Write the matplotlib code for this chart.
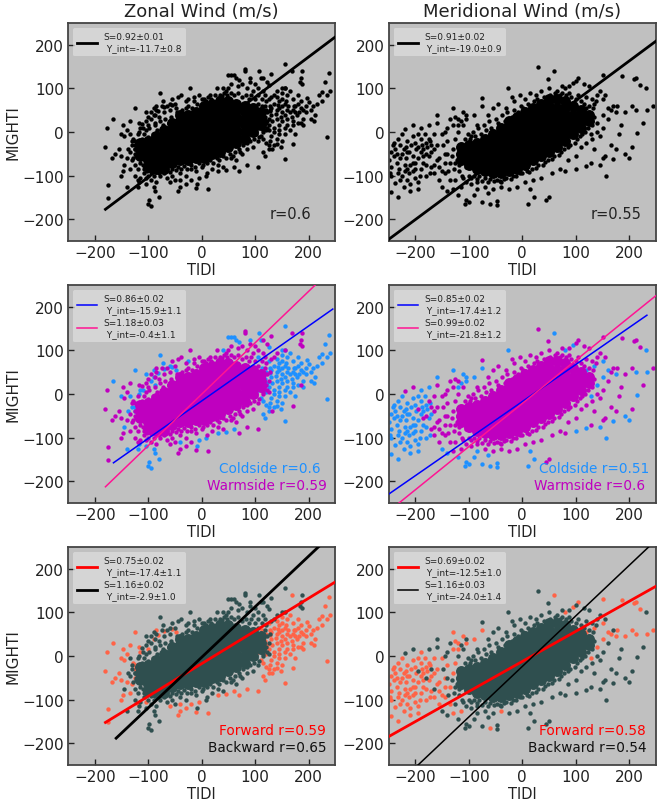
"""MIGHTI vs TIDI wind comparison, split by side and look direction."""

import matplotlib

matplotlib.use("Agg")
import matplotlib.pyplot as plt
import numpy as np

# points: C/W = coldside/warmside, F/B = forward/backward
ZONAL_CF = [(238,135),(230,115),(240,95),(225,92),(235,85),(220,85),(225,70),(215,65),(208,60),(200,68),(196,78),(205,50),
    (212,40),(195,45),(190,30),(205,30),(210,25),(235,-12),(185,55),(175,60),(170,75),(160,85),(150,90),(165,45),(178,40),
    (155,65),(145,70),(140,50),(150,45),(160,30),(170,25),(180,20),(150,25),(140,30),(130,40),(128,60),(120,50),(115,30),
    (125,15),(135,10),(145,5),(155,10),(165,5),(175,-5),(130,-10),(140,-15),(150,-20),(135,-30),(120,-25),(110,-10),(105,10),
    (100,30),(112,60),(125,75),(170,50),(160,50),(185,70),(195,60),(180,85),(165,95),(155,100),(145,55),(135,65),(150,60),
    (190,15),(145,-5),(125,-40),(148,-35),(115,-45),(118,-55),(155,-62),(-165,30),(-125,55),(-150,-5),(-115,10),(-95,-75),
    (-82,48),(-70,58),(-55,62),(-48,55),(-90,40),(-125,-30),(-118,-60),(30,-90),(45,-88),(60,-80),(-40,-110),(-5,-105),
    (100,55),(108,45),(118,35),(122,25),(128,48),(132,25),(138,42),(142,62),(148,35),(155,40),(158,70),(162,60),(168,35),
    (172,60),(175,45),(182,45),(150,75),(140,80),(130,55),(135,0),(145,15),(120,5),(112,20),(128,-20),(115,-15),(160,15),
    (155,-5),(170,15),(180,65),(190,50),(140,-28),(125,-30)]
ZONAL_WF = [(-180,-35),(-177,10),(-175,-122),(-175,-152),(-148,15),(-145,-10),(-128,-15),(-140,5),(-162,-50),(-150,-55),
    (-168,-60),(-140,-60),(-150,-100),(-148,-90),(168,140),(105,-80),(85,-75),(70,-90),(-40,-125),(-45,-135),(-30,-120),
    (-20,-110),(-60,-115),(185,20),(170,-28),(132,-40),(-10,-128),(12,-130),(-135,25),(-110,-30),(-155,-40),(-125,-50),
    (-130,-65),(-135,-85),(-120,-110),(-105,-105),(-125,-20),(-100,15),(-118,20),(-85,60)]
ZONAL_CB = [(155,155),(107,140),(-100,-165),(-98,-155),(-95,-170),(-80,-150),(60,130),(55,130),(65,125),(70,120),(50,130),
    (-78,90),(-105,45),(-95,30),(-110,10),(-115,-25),(-90,55),(-88,20),(-72,70),(-60,65),(-25,75),(-130,-30),(-135,-5),
    (-125,-40),(-118,-115),(-90,-125),(-88,-135),(-120,-125),(-140,-125),(-145,-75),(-8,-120),(8,-100),(125,108),(110,125),
    (150,100),(105,85),(90,125),(40,100),(-118,0),(-122,-50),(-105,-120),(-138,-40)]
ZONAL_WB = [(-120,-5),(-112,18),(-105,25),(-100,35),(-95,45),(-88,40),(-85,50),(-80,35),(-75,60),(-70,45),(-65,60),(-60,50),
    (-55,75),(-50,65),(-45,80),(-38,85),(-30,70),(-22,100),(-15,80),(-5,85),(5,75),(15,85),(28,100),(35,85),(45,95),(50,100),
    (55,110),(68,105),(75,110),(85,100),(90,115),(95,95),(100,110),(105,100),(115,95),(122,115),(115,125),(130,132),(80,145),
    (80,140),(187,140),(185,125),(183,115),(188,110),(118,85),(130,80),(140,95),(155,100),(-135,-45),(-128,-60),(-125,-75),
    (-120,-85),(-125,-100),(-115,-105),(-110,-75),(-108,-95),(-100,-100),(-95,-110),(-90,-85),(-85,-115),(-78,-100),(-70,-95),
    (-65,-105),(-55,-100),(-50,-110),(-40,-95),(-30,-100),(-20,-85),(-10,-90),(0,-80),(10,-95),(20,-85),(30,-75),(40,-80),
    (55,-60),(65,-65),(75,-50),(85,-40),(95,-35),(105,-20),(115,0),(122,10),(125,30),(120,70),(135,85)]
ZONAL_RING = [(-130,-20),(-125,-40),(-122,-55),(-118,-30),(-115,-70),(-112,-45),(-112,-15),(-108,-85),(-108,-5),(-105,-62),
    (-105,5),(-102,-90),(-100,-12),(-98,10),(-95,-92),(-92,-5),(-90,-100),(-88,15),(-85,-88),(-83,5),(-80,-95),(-78,25),(-76,-85),
    (-73,15),(-70,-90),(-68,30),(-65,-80),(-62,20),(-60,-92),(-58,35),(-55,-85),(-52,25),(-48,-88),(-46,45),(-44,-80),(-42,35),
    (-38,-85),(-36,50),(-33,-78),(-30,55),(-28,-85),(-25,60),(-20,-75),(-18,55),(-15,70),(-12,-80),(-8,65),(-5,-72),(-2,60),(0,75),
    (3,-75),(8,70),(10,-70),(12,80),(15,-65),(18,75),(22,-70),(25,85),(28,-60),(30,78),(33,-65),(38,82),(40,-55),(42,90),(45,-60),
    (48,85),(52,-50),(55,90),(58,-55),(60,85),(62,-45),(68,90),(70,-40),(72,-45),(75,80),(78,-30),(82,85),(85,-25),(88,75),(90,-20),
    (92,85),(98,-15),(100,75),(102,-5),(105,65),(108,-12),(112,75),(115,5),(118,60),(120,20),(122,45),(125,5),(128,50)]
ZONAL_CORE = [(-115,-55),(-115,-40),(-115,-25),(-100,-80),(-100,-65),(-100,-50),(-100,-35),(-100,-20),(-85,-85),(-85,-70),(-85,-55),
    (-85,-40),(-85,-25),(-85,-10),(-70,-85),(-70,-70),(-70,-55),(-70,-40),(-70,-25),(-70,-10),(-70,5),(-55,-70),(-55,-55),(-55,-40),
    (-55,-25),(-55,-10),(-55,5),(-55,20),(-40,-65),(-40,-50),(-40,-35),(-40,-20),(-40,-5),(-40,10),(-40,25),(-40,40),(-25,-65),(-25,-50),
    (-25,-35),(-25,-20),(-25,-5),(-25,10),(-25,25),(-25,40),(-10,-60),(-10,-45),(-10,-30),(-10,-15),(-10,0),(-10,15),(-10,30),(-10,45),
    (5,-60),(5,-45),(5,-30),(5,-15),(5,0),(5,15),(5,30),(5,45),(5,60),(20,-50),(20,-35),(20,-20),(20,-5),(20,10),(20,25),(20,40),(20,55),
    (20,65),(35,-45),(35,-30),(35,-15),(35,0),(35,15),(35,30),(35,45),(35,60),(35,70),(50,-35),(50,-20),(50,-5),(50,10),(50,25),(50,40),
    (50,55),(50,70),(65,-25),(65,-10),(65,5),(65,20),(65,35),(65,50),(65,65),(80,-15),(80,0),(80,15),(80,30),(80,45),(80,60),(95,0),
    (95,15),(95,30),(95,45),(95,55),(110,15),(110,30),(110,45)]

MERID_CF = [(-250,-65),(-245,-100),(-248,-95),(-245,-138),(-232,-150),(-238,-40),(-232,-15),(-228,-30),(-222,-40),(-240,-55),
    (-235,-70),(-230,-85),(-225,-100),(-218,-60),(-212,-45),(-205,-10),(-200,-25),(-210,-75),(-205,-90),(-215,-110),(-222,-125),
    (-210,-135),(-195,-130),(-200,-105),(-190,-85),(-195,-60),(-185,-40),(-190,-15),(-195,-5),(-180,-25),(-205,-55),(-228,-60),
    (-235,-50),(-245,-80),(-215,-20),(-225,-5),(-190,10),(-175,-55),(-180,-75),(-172,-95),(-198,-40),(-212,-95),(-237,-118),
    (-220,-75),(60,140),(213,50),(233,50),(-130,55),(-110,45),(-105,30),(-120,15),(-90,40),(-75,60),(120,55),(135,65),(150,75),
    (125,25),(140,20),(150,40),(128,-5),(115,10),(160,55),(175,45),(80,100),(95,112),(-60,-165),(-245,-45),(-240,-25),(-225,-50),
    (-220,-90),(-215,-45),(-208,-30),(-205,-70),(-200,-85),(-195,-115),(-190,-45),(-185,-70),(-182,-5),(-178,-35),(-172,-20),
    (-215,-85),(-228,-110),(-218,-35),(-242,-30),(-232,-95),(-210,-120),(-200,-70),(-192,-100),(-188,-30),(-180,-100),(-170,-45)]
MERID_WF = [(245,60),(220,108),(208,122),(212,125),(187,128),(-175,-15),(-165,-40),(-160,-65),(-155,-80),(-145,-50),(-140,-20),
    (-150,-5),(-170,-80),(-165,-95),(-155,-110),(-145,-95),(-135,-70),(-130,-40),(-125,-15),(-130,15),(-125,35),(-120,30),
    (-135,-110),(-130,-130),(-115,-125),(-165,-5),(-185,-55),(192,45),(205,60),(178,60),(165,50),(105,125),(150,130),(-40,-125),
    (-160,-30),(-155,-60),(-150,-90),(-145,-70)]
MERID_CB = [(-160,40),(-175,15),(-115,25),(-105,40),(-108,-165),(-105,-155),(-100,-160),(-75,-160),(-48,-158),(-48,-168),
    (232,102),(215,-3),(200,-60),(192,-50),(157,-100),(-27,100),(10,-165),(22,-150),(-150,-125),(-140,-135),(-120,-145),
    (-90,-145),(100,-85),(120,-78),(145,-75),(170,-62),(-85,-130),(-65,-140),(15,-130)]
MERID_WB = [(-220,8),(-195,-35),(-205,15),(-180,-50),(-165,-75),(-148,-30),(-160,20),(-145,0),(-135,30),(-110,15),(-115,-40),
    (-118,-75),(-112,-100),(-105,-115),(-95,-120),(-85,-115),(-70,-125),(-55,-130),(-40,-115),(-25,-130),(-10,-125),(5,-115),
    (20,-110),(35,-105),(50,-150),(45,-155),(55,-95),(70,-85),(80,-90),(85,-65),(100,-55),(110,-35),(120,-25),(130,-15),(-75,78),
    (-65,40),(-55,55),(-45,65),(-30,55),(-20,80),(-15,70),(-5,85),(5,75),(15,90),(25,85),(30,150),(35,95),(48,122),(50,100),(65,95),
    (75,105),(88,105),(100,118),(115,110),(125,105),(145,95),(155,85),(140,85),(130,75),(170,60),(160,30),(150,10),(145,-10),(135,-40),
    (155,-55),(165,-30),(180,-5),(225,20),(205,-35),(185,15),(175,-40),(-85,15),(-95,-10),(-105,-30),(-110,-65),(150,-60),(128,-70),
    (-140,-50),(-138,-90),(-132,-55),(-128,-85),(-125,-110),(-122,-65),(-120,0),(-140,10),(-170,-30)]
MERID_RING = [(-125,-70),(-120,-50),(-118,-90),(-115,-30),(-112,-60),(-110,-105),(-108,-15),(-105,-80),(-102,-5),(-100,-100),(-98,-15),
    (-95,-105),(-92,0),(-90,-100),(-88,-10),(-85,-108),(-82,10),(-80,-100),(-78,-5),(-75,-112),(-72,15),(-70,-105),(-68,5),(-65,-115),
    (-62,25),(-60,-108),(-58,10),(-52,-112),(-50,30),(-48,-110),(-45,20),(-42,-112),(-38,40),(-35,-108),(-32,25),(-30,-105),(-28,45),
    (-22,-108),(-20,35),(-18,-100),(-15,50),(-12,-100),(-8,45),(-5,-95),(-2,60),(0,-95),(2,55),(8,-90),(10,65),(12,-92),(15,60),(18,-85),
    (22,70),(25,-82),(28,75),(30,-75),(32,68),(38,-75),(40,80),(42,-68),(45,75),(48,-65),(52,85),(55,-62),(58,80),(60,-55),(62,90),(68,-52),
    (70,85),(72,-45),(75,90),(78,-40),(82,85),(85,-35),(88,90),(90,-30),(92,80),(98,-25),(100,75),(102,-15),(105,85),(108,-10),(110,70),
    (112,-5),(115,65),(118,0),(120,80),(122,10),(125,60),(125,25),(128,40),(130,15),(132,55),(135,35),(138,70),(140,0)]
MERID_CORE = [(-115,-65),(-115,-50),(-115,-35),(-100,-75),(-100,-60),(-100,-45),(-100,-30),(-85,-85),(-85,-70),(-85,-55),(-85,-40),(-85,-25),
    (-70,-90),(-70,-75),(-70,-60),(-70,-45),(-70,-30),(-70,-15),(-55,-95),(-55,-80),(-55,-65),(-55,-50),(-55,-35),(-55,-20),(-55,-5),(-40,-95),
    (-40,-80),(-40,-65),(-40,-50),(-40,-35),(-40,-20),(-40,-5),(-40,10),(-25,-90),(-25,-75),(-25,-60),(-25,-45),(-25,-30),(-25,-15),(-25,0),
    (-25,15),(-25,25),(-10,-85),(-10,-70),(-10,-55),(-10,-40),(-10,-25),(-10,-10),(-10,5),(-10,20),(-10,35),(5,-75),(5,-60),(5,-45),
    (5,-30),(5,-15),(5,0),(5,15),(5,30),(5,45),(20,-65),(20,-50),(20,-35),(20,-20),(20,-5),(20,10),(20,25),(20,40),(20,55),(35,-55),
    (35,-40),(35,-25),(35,-10),(35,5),(35,20),(35,35),(35,50),(35,65),(50,-45),(50,-30),(50,-15),(50,0),(50,15),(50,30),(50,45),(50,60),
    (50,75),(65,-35),(65,-20),(65,-5),(65,10),(65,25),(65,40),(65,55),(65,75),(80,-20),(80,-5),(80,10),(80,25),(80,40),(80,55),(80,70),
    (95,-5),(95,10),(95,25),(95,40),(95,60),(110,10),(110,25),(110,40),(110,50),(125,25),(125,40)]

COLUMN_TITLES = ["Zonal Wind (m/s)", "Meridional Wind (m/s)"]
XTICKS = [-200, -100, 0, 100, 200]

# one fit per line: slope, intercept, x range, legend label
ZONAL_ALL_FIT = [(0.92, -11.7, -180, 250, "S=0.92±0.01\n Y_int=-11.7±0.8")]
MERID_ALL_FIT = [(0.91, -19.0, -250, 250, "S=0.91±0.02\n Y_int=-19.0±0.9")]
ZONAL_SIDE_FIT = [(0.86, -15.9, -165, 245, "S=0.86±0.02\n Y_int=-15.9±1.1"),
                  (1.18, -0.4, -180, 212, "S=1.18±0.03\n Y_int=-0.4±1.1")]
MERID_SIDE_FIT = [(0.85, -17.4, -250, 233, "S=0.85±0.02\n Y_int=-17.4±1.2"),
                  (0.99, -21.8, -250, 250, "S=0.99±0.02\n Y_int=-21.8±1.2")]
ZONAL_DIR_FIT = [(0.75, -17.4, -180, 250, "S=0.75±0.02\n Y_int=-17.4±1.1"),
                 (1.16, -2.9, -160, 218, "S=1.16±0.02\n Y_int=-2.9±1.0")]
MERID_DIR_FIT = [(0.69, -12.5, -250, 250, "S=0.69±0.02\n Y_int=-12.5±1.0"),
                 (1.16, -24.0, -195, 236, "S=1.16±0.03\n Y_int=-24.0±1.4")]

BG = "#c0c0c0"
DOT = 10
CORE_DOT = 62


def dots(ax, pts, color, size=DOT):
    arr = np.array(pts)
    ax.scatter(arr[:, 0], arr[:, 1], s=size, color=color, linewidths=0, zorder=2)


def fits(ax, rows, colors, widths):
    for (slope, icpt, x0, x1, label), c, lw in zip(rows, colors, widths):
        xs = np.array([x0, x1])
        ax.plot(xs, slope * xs + icpt, color=c, lw=lw, label=label, zorder=3)
    leg = ax.legend(loc="upper left", fontsize=6.5, frameon=True, facecolor="#e4e4e4", edgecolor="none",
                    framealpha=0.6, borderpad=0.5, labelspacing=0.5, handlelength=2.2, handletextpad=0.7,
                    fancybox=True, bbox_to_anchor=(0.0, 1.0), borderaxespad=0.55)
    for t in leg.get_texts():
        t.set_color("#222222")


def notes(ax, rows, size=9.8):
    for x, y, txt, c in rows:
        ax.text(x, y, txt, color=c, fontsize=size, va="center", ha="left", zorder=4)


def main():
    fig, axes = plt.subplots(3, 2, figsize=(6.58, 8.04), dpi=100)
    fig.subplots_adjust(left=68 / 658, right=656 / 658, top=1 - 24 / 804, bottom=1 - 766 / 804,
                        wspace=53 / 267, hspace=44 / 218)

    columns = [(ZONAL_CF, ZONAL_WF, ZONAL_CB, ZONAL_WB, ZONAL_RING, ZONAL_CORE),
               (MERID_CF, MERID_WF, MERID_CB, MERID_WB, MERID_RING, MERID_CORE)]
    for col, (cf, wf, cb, wb, ring, core) in enumerate(columns):
        ax = axes[0, col]
        dots(ax, cf + wf + cb + wb + ring, "black")
        dots(ax, core, "black", CORE_DOT)

        ax = axes[1, col]
        dots(ax, cf + cb, "dodgerblue")
        dots(ax, wf + wb + ring, "m")
        dots(ax, core, "m", CORE_DOT)

        ax = axes[2, col]
        dots(ax, cf + wf, "tomato")
        dots(ax, cb + wb + ring, "darkslategray")
        dots(ax, core, "darkslategray", CORE_DOT)

    fits(axes[0, 0], ZONAL_ALL_FIT, ["black"], [2])
    fits(axes[0, 1], MERID_ALL_FIT, ["black"], [2])
    fits(axes[1, 0], ZONAL_SIDE_FIT, ["b", "deeppink"], [1.1, 1.1])
    fits(axes[1, 1], MERID_SIDE_FIT, ["b", "deeppink"], [1.1, 1.1])
    fits(axes[2, 0], ZONAL_DIR_FIT, ["r", "black"], [2, 2])
    fits(axes[2, 1], MERID_DIR_FIT, ["r", "black"], [2, 1.1])

    notes(axes[0, 0], [(126, -188, "r=0.6", "#222222")], size=10.5)
    notes(axes[0, 1], [(127, -188, "r=0.55", "#222222")], size=10.5)
    notes(axes[1, 0], [(32, -170, "Coldside r=0.6", "dodgerblue"), (10, -209, "Warmside r=0.59", "m")])
    notes(axes[1, 1], [(32, -170, "Coldside r=0.51", "dodgerblue"), (21, -209, "Warmside r=0.6", "m")])
    notes(axes[2, 0], [(32, -170, "Forward r=0.59", "r"), (12, -209, "Backward r=0.65", "#111111")])
    notes(axes[2, 1], [(32, -170, "Forward r=0.58", "r"), (11, -209, "Backward r=0.54", "#111111")])

    for ax in axes.flat:
        ax.set_facecolor(BG)
        ax.set_xlim(-250, 250)
        ax.set_ylim(-250, 250)
        ax.set_xticks(XTICKS)
        ax.set_yticks(XTICKS)
        ax.tick_params(direction="in", length=4, width=1, labelsize=11, colors="#222222", pad=3)
        for sp in ax.spines.values():
            sp.set_linewidth(1.3)
            sp.set_color("#444444")
        ax.set_xlabel("TIDI", fontsize=10.5, color="#222222", labelpad=1)
    for row in range(3):
        axes[row, 0].set_ylabel("MIGHTI", fontsize=11, color="#222222", labelpad=1)
    for col, title in enumerate(COLUMN_TITLES):
        axes[0, col].set_title(title, fontsize=13, color="#222222", pad=5)

    fig.savefig("out.png", dpi=100)
    plt.close(fig)


if __name__ == "__main__":
    main()
